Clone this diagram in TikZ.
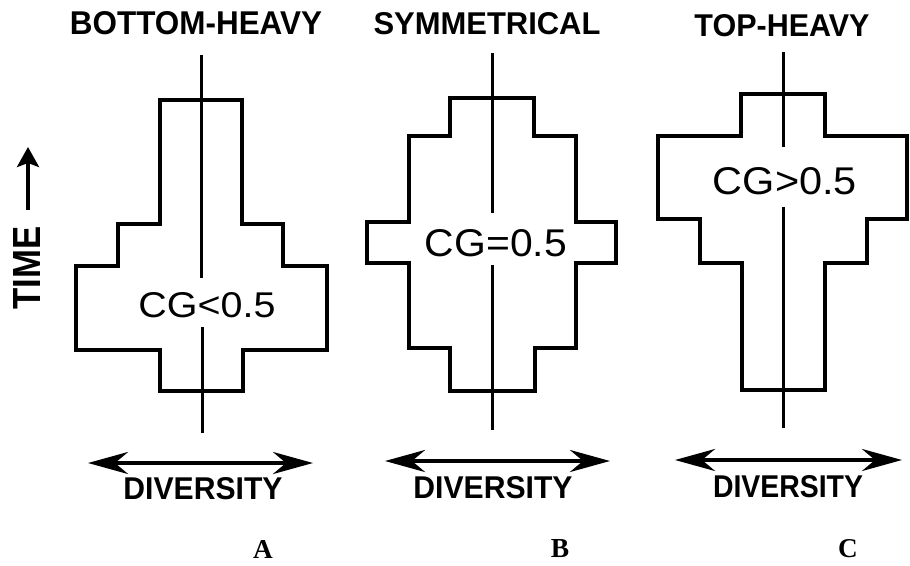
\documentclass[tikz,border=0pt]{standalone}
\usepackage{fontspec}
\setmainfont{Liberation Sans}
\newfontfamily\lblserif{Liberation Serif}
\usetikzlibrary{arrows.meta}
\newcommand{\fitlbl}[3]{\resizebox{#1pt}{#2pt}{#3}}
\tikzset{
  outline/.style={line width=3.6pt, line join=miter},
  axisline/.style={line width=3pt},
  divarrow/.style={line width=4pt, {Stealth[length=40pt,width=22pt,inset=13pt]}-{Stealth[length=40pt,width=22pt,inset=13pt]}},
  timearrow/.style={line width=3.8pt, -{Stealth[length=20pt,width=22pt,inset=4pt]}},
  lbl/.style={inner sep=0pt, outer sep=0pt},
}
\begin{document}
\begin{tikzpicture}[x=1pt,y=-1pt]
\useasboundingbox[fill=white] (0,0) rectangle (910,565);

% titles
\node[lbl] (tA) at (196,23.5) {\fitlbl{252}{23}{\bfseries BOTTOM-HEAVY}};
\node[lbl] (tB) at (487,24) {\fitlbl{227}{22}{\bfseries SYMMETRICAL}};
\node[lbl] (tC) at (782,26) {\fitlbl{175}{22}{\bfseries TOP-HEAVY}};

% shapes
\draw[outline] (160,100) -- (242,100) -- (242,224) -- (283,224) -- (283,266) -- (327,266) -- (327,350) -- (243,350) -- (243,391) -- (160,391) -- (160,350) -- (76,350) -- (76,266) -- (118,266) -- (118,224) -- (160,224) -- cycle;
\draw[outline] (450,98) -- (534,98) -- (534,136) -- (576,136) -- (576,222) -- (616,222) -- (616,263) -- (576,263) -- (576,348) -- (535,348) -- (535,391) -- (450,391) -- (450,348) -- (409,348) -- (409,263) -- (367,263) -- (367,222) -- (409,222) -- (409,136) -- (450,136) -- cycle;
\draw[outline] (741,94) -- (825,94) -- (825,136) -- (907,136) -- (907,219) -- (867,219) -- (867,263) -- (825,263) -- (825,390) -- (742,390) -- (742,263) -- (700,263) -- (700,219) -- (658,219) -- (658,136) -- (741,136) -- cycle;

% axes
\coordinate (aA1) at (201,55); \coordinate (aA2) at (201,278);
\coordinate (aA3) at (202,327); \coordinate (aA4) at (202,433);
\coordinate (aB1) at (492,53); \coordinate (aB2) at (492,213);
\coordinate (aB3) at (492,265); \coordinate (aB4) at (492,430);
\coordinate (aC1) at (783,52); \coordinate (aC2) at (783,147);
\coordinate (aC3) at (783,207); \coordinate (aC4) at (783,428);
\draw[axisline] (aA1) -- (aA2);
\draw[axisline] (aA3) -- (aA4);
\draw[axisline] (aB1) -- (aB2);
\draw[axisline] (aB3) -- (aB4);
\draw[axisline] (aC1) -- (aC2);
\draw[axisline] (aC3) -- (aC4);

% CG labels
\node[lbl] (cA) at (207,305) {\fitlbl{137}{25}{CG<0.5}};
\node[lbl] (cB) at (496,243) {\fitlbl{142}{27}{CG=0.5}};
\node[lbl] (cC) at (785,181) {\fitlbl{144}{27}{CG>0.5}};

% time
\coordinate (ts) at (28,210);
\coordinate (te) at (28,147);
\draw[timearrow] (ts) -- (te);
\node[lbl, rotate=90] (time) at (27,268) {\fitlbl{83}{27}{\bfseries TIME}};

% diversity arrows
\coordinate (dA1) at (88,463); \coordinate (dA2) at (313,463);
\coordinate (dB1) at (385,461); \coordinate (dB2) at (610,461);
\coordinate (dC1) at (675,460); \coordinate (dC2) at (902,460);
\draw[divarrow] (dA1) -- (dA2);
\draw[divarrow] (dB1) -- (dB2);
\draw[divarrow] (dC1) -- (dC2);
\node[lbl] (vA) at (203,489) {\fitlbl{159}{22}{\bfseries DIVERSITY}};
\node[lbl] (vB) at (493,488) {\fitlbl{159}{22}{\bfseries DIVERSITY}};
\node[lbl] (vC) at (788,487) {\fitlbl{150}{22}{\bfseries DIVERSITY}};

% panel letters
\node[lbl] (pA) at (263,549) {\resizebox{!}{18pt}{\lblserif\bfseries A}};
\node[lbl] (pB) at (560,549) {\resizebox{!}{18pt}{\lblserif\bfseries B}};
\node[lbl] (pC) at (848,549) {\resizebox{!}{18pt}{\lblserif\bfseries C}};
\end{tikzpicture}
\end{document}
